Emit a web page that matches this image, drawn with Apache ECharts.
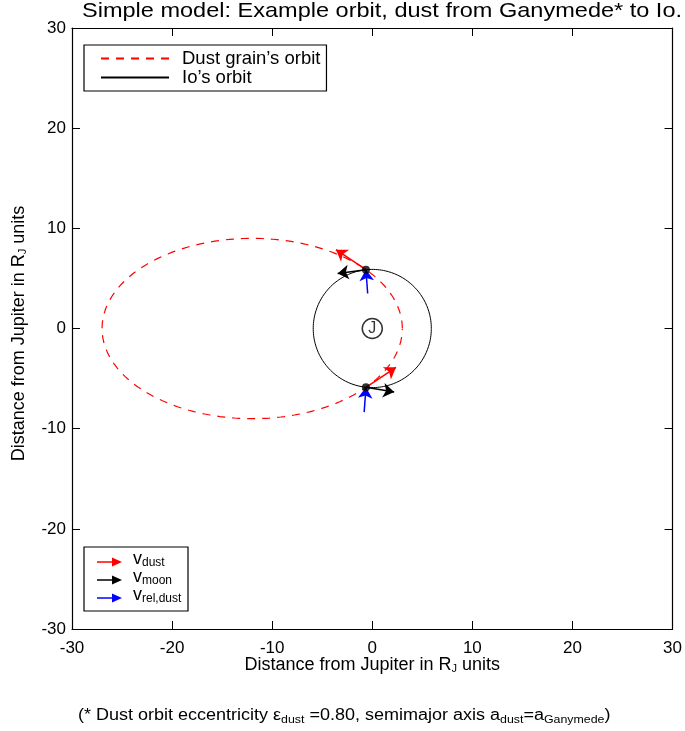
<!DOCTYPE html>
<html>
<head>
<meta charset="utf-8">
<script src="https://cdn.jsdelivr.net/npm/echarts@6/dist/echarts.min.js"></script>
<style>
  html, body { margin: 0; padding: 0; background: #fff; }
  #chart { width: 685px; height: 731px; }
</style>
</head>
<body>
<div id="chart"></div>
<script>
// Orbital parameters (units of Jupiter radii)
const ganymedeSemiMajor = 15.0;   // a_dust = a_Ganymede
const dustEccentricity = 0.80;
const ioOrbitRadius = 5.9;

// Axis ticks
const axisMin = -30, axisMax = 30, axisStep = 10;

// Points where the dust orbit crosses Io's orbit
const crossPoints = [[-0.63, 5.87], [-0.63, -5.87]];
// Velocity vectors drawn at each crossing (arbitrary scale)
const vDust = [[-3.0, 2.0], [3.0, 2.0]];
const vMoon = [[-2.83, -0.37], [2.82, -0.48]];

const FONT = 'Liberation Sans, Arial, sans-serif';

// Dust grain orbit: conic with the focus at Jupiter, periapsis along +x
const semiLatus = ganymedeSemiMajor * (1 - dustEccentricity * dustEccentricity);
const dustOrbit = [];
for (let deg = 0; deg <= 360; deg += 1) {
  const t = deg * Math.PI / 180;
  const r = semiLatus / (1 + dustEccentricity * Math.cos(t));
  dustOrbit.push([r * Math.cos(t), r * Math.sin(t)]);
}
// Io's circular orbit
const ioOrbit = [];
for (let deg = 0; deg <= 360; deg += 1) {
  const t = deg * Math.PI / 180;
  ioOrbit.push([ioOrbitRadius * Math.cos(t), ioOrbitRadius * Math.sin(t)]);
}

function arrowsFrom(points, vecs) {
  return points.map((p, i) => ({ coords: [p, [p[0] + vecs[i][0], p[1] + vecs[i][1]]] }));
}
// Relative velocity v_dust - v_moon, drawn so its head ends at the crossing
const vRel = vDust.map((v, i) => [v[0] - vMoon[i][0], v[1] - vMoon[i][1]]);
const relArrows = crossPoints.map((p, i) => ({
  coords: [[p[0] - vRel[i][0], p[1] - vRel[i][1]], p]
}));

function arrowSeries(name, data, color) {
  return {
    name, type: 'lines', coordinateSystem: 'cartesian2d',
    data, symbol: ['none', 'arrow'], symbolSize: [10, 11],
    lineStyle: { color, width: 1.5, opacity: 1 },
    silent: true, z: 5
  };
}

const subRich = {
  a: { fontSize: 18, fontFamily: FONT, color: '#000' },
  s: { fontSize: 11, fontFamily: FONT, color: '#000', verticalAlign: 'bottom', padding: [7, 0, 0, 0] }
};

// Small arrow glyphs for the velocity key
function keyArrow(y, color) {
  return [
    { type: 'line', z: 11, shape: { x1: 97, y1: y, x2: 114, y2: y }, style: { stroke: color, lineWidth: 1.5 } },
    { type: 'polygon', z: 11, shape: { points: [[122, y], [112, y - 4.5], [112, y + 4.5]] }, style: { fill: color } }
  ];
}
function keyLabel(y, sub) {
  return {
    type: 'text', x: 133, y: y, z: 11,
    style: {
      text: '{v|v}{s|' + sub + '}',
      verticalAlign: 'middle',
      rich: {
        v: { fontSize: 18, fontFamily: FONT, color: '#000' },
        s: { fontSize: 12, fontFamily: FONT, color: '#000', verticalAlign: 'bottom', padding: [8, 0, 0, 0] }
      }
    }
  };
}

const chart = echarts.init(document.getElementById('chart'), null, { renderer: 'canvas' });

const frameAxis = {
  type: 'value', min: axisMin, max: axisMax, interval: axisStep,
  splitLine: { show: false },
  axisLine: { show: true, onZero: false, lineStyle: { color: '#000', width: 1.2 } },
  axisTick: { show: true, inside: true, length: 8, lineStyle: { color: '#000' } }
};

chart.setOption({
  animation: false,
  backgroundColor: '#fff',
  grid: { left: 72, right: 10, top: 28, bottom: 102 },
  legend: {
    orient: 'vertical', left: 84, top: 45,
    data: ['Dust grain’s orbit', 'Io’s orbit'],
    itemWidth: 68, itemHeight: 14, itemGap: 0,
    padding: [4, 6, 4, 16],
    borderColor: '#000', borderWidth: 1.2,
    itemStyle: { opacity: 0 },
    textStyle: { fontSize: 18.5, lineHeight: 18, fontFamily: FONT, color: '#000', padding: [0, 0, 0, 8] },
    selectedMode: false
  },
  xAxis: [
    Object.assign({}, frameAxis, {
      position: 'bottom',
      axisLabel: { fontSize: 17, fontFamily: FONT, color: '#000', margin: 11 },
      name: '{a|Distance from Jupiter in R}{s|J}{a| units}',
      nameLocation: 'middle', nameGap: 27, nameMoveOverlap: false,
      nameTextStyle: { rich: subRich }
    }),
    Object.assign({}, frameAxis, { position: 'top', axisLabel: { show: false } })
  ],
  yAxis: [
    Object.assign({}, frameAxis, {
      position: 'left',
      axisLabel: { fontSize: 17, fontFamily: FONT, color: '#000', margin: 6 },
      name: '{a|Distance from Jupiter in R}{s|J}{a| units}',
      nameLocation: 'middle', nameGap: 44, nameRotate: 90, nameMoveOverlap: false,
      nameTextStyle: { rich: subRich, padding: [0, 10, 0, 0] }
    }),
    Object.assign({}, frameAxis, { position: 'right', axisLabel: { show: false } })
  ],
  series: [
    {
      name: 'Dust grain’s orbit', type: 'line', data: dustOrbit,
      symbol: 'none', showSymbol: false,
      lineStyle: { color: '#ff0000', width: 1.2, type: [8, 7] },
      itemStyle: { color: '#ff0000' },
      silent: true, z: 2
    },
    {
      name: 'Io’s orbit', type: 'line', data: ioOrbit,
      symbol: 'none', showSymbol: false,
      lineStyle: { color: '#000', width: 1 },
      itemStyle: { color: '#000' },
      silent: true, z: 2
    },
    {
      name: 'Jupiter', type: 'scatter', data: [[0, 0]],
      symbol: 'circle', symbolSize: 20,
      itemStyle: { color: '#fff', borderColor: '#000', borderWidth: 1.5 },
      label: { show: true, position: 'inside', formatter: 'J', fontSize: 16, fontFamily: FONT, color: '#000' },
      silent: true, z: 3
    },
    arrowSeries('v_dust', arrowsFrom(crossPoints, vDust), '#ff0000'),
    arrowSeries('v_moon', arrowsFrom(crossPoints, vMoon), '#000000'),
    arrowSeries('v_rel', relArrows, '#0000ff'),
    {
      name: 'Crossings', type: 'scatter', data: crossPoints,
      symbol: 'circle', symbolSize: 8,
      itemStyle: { color: '#000' },
      silent: true, z: 6
    }
  ],
  graphic: [
    {
      type: 'text', x: 82, y: 11, z: 11, scaleX: 1.12,
      style: {
        text: 'Simple model: Example orbit, dust from Ganymede* to Io.',
        verticalAlign: 'middle',
        font: '21px ' + FONT, fill: '#000'
      }
    },
    {
      type: 'rect', z: 10, shape: { x: 84, y: 547, width: 104, height: 64 },
      style: { fill: '#fff', stroke: '#000', lineWidth: 1.2 }
    },
    ...keyArrow(562, '#ff0000'),
    ...keyArrow(580, '#000000'),
    ...keyArrow(598, '#0000ff'),
    keyLabel(559, 'dust'),
    keyLabel(577, 'moon'),
    keyLabel(595, 'rel,dust'),
    {
      type: 'text', x: 78, y: 716, z: 11, scaleX: 1.125,
      style: {
        text: '{a|(* Dust orbit eccentricity ε}{s|dust}{a| =0.80, semimajor axis a}{s|dust}{a|=a}{s|Ganymede}{a|)}',
        verticalAlign: 'middle',
        rich: {
          a: { fontSize: 16, fontFamily: FONT, color: '#000' },
          s: { fontSize: 11, fontFamily: FONT, color: '#000', verticalAlign: 'bottom', padding: [7, 0, 0, 0] }
        }
      }
    }
  ]
});
</script>
</body>
</html>
